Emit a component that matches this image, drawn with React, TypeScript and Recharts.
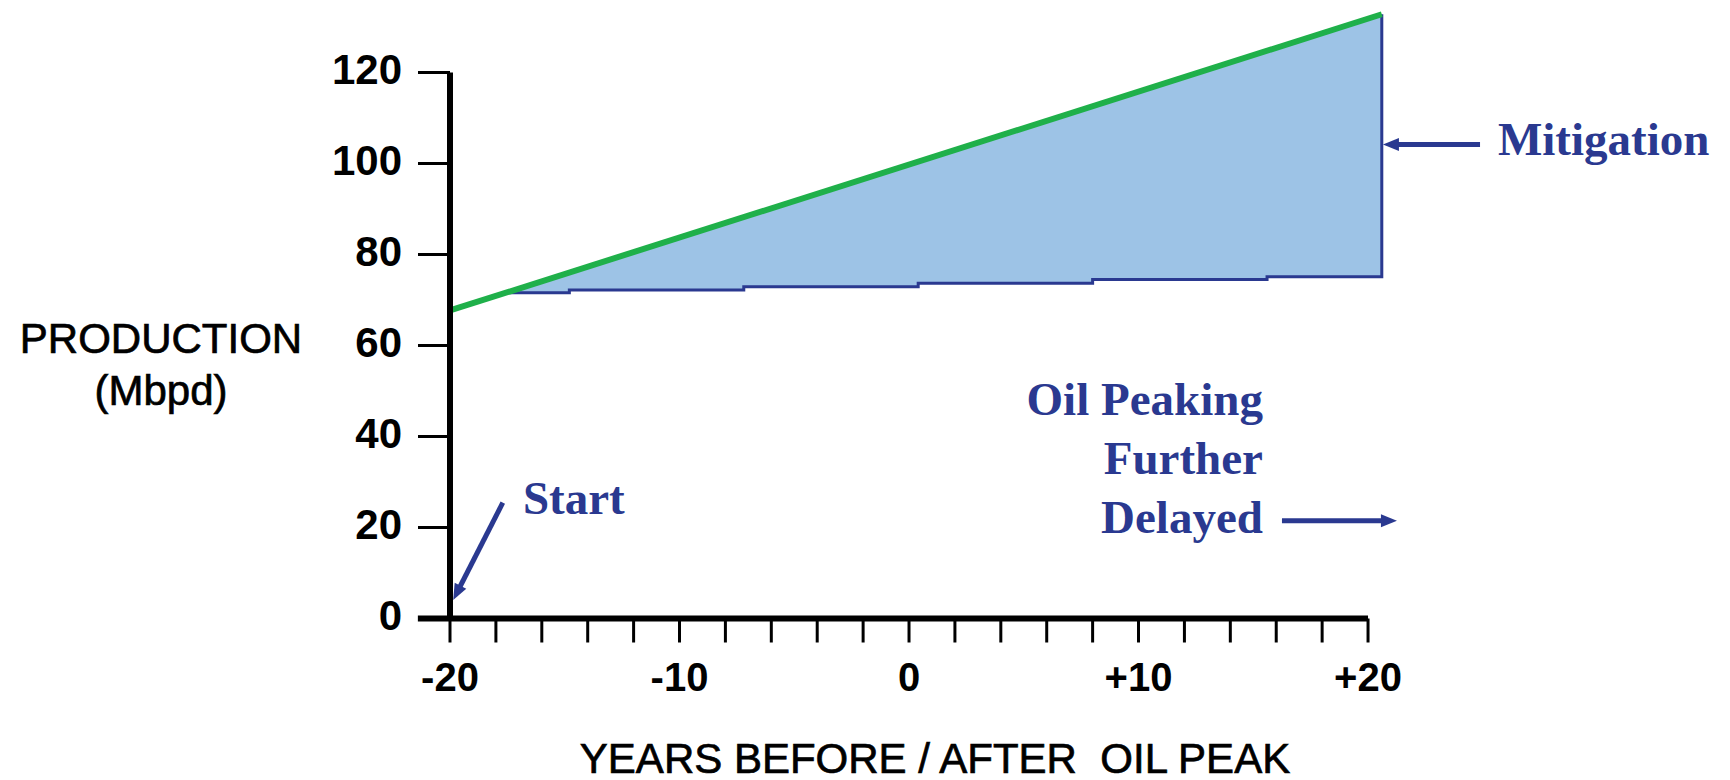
import { ComposedChart, Area, Line, XAxis, YAxis, ReferenceLine, ReferenceDot } from 'recharts'

// lower (base case) step line and the green mitigation line, read at the step points
const YEARS = [-17.4, -14.8, -14.8, -7.2, -7.2, 0.4, 0.4, 8.0, 8.0, 15.6, 15.6, 20.6]
const BASE_CASE = [71.6, 71.6, 72.2, 72.2, 72.9, 72.9, 73.7, 73.7, 74.5, 74.5, 75.1, 75.1]
const MITIGATED = [71.9, 76.0, 76.0, 88.2, 88.2, 100.4, 100.4, 112.6, 112.6, 124.8, 124.8, 132.8]

const GREEN_YEARS = [-20, 20.6]
const GREEN_VALUES = [67.7, 132.8]

const X_TICKS = [-20, -18, -16, -14, -12, -10, -8, -6, -4, -2, 0, 2, 4, 6, 8, 10, 12, 14, 16, 18, 20]
const X_LABELS: Record<string, string> = { '-20': '-20', '-10': '-10', '0': '0', '10': '+10', '20': '+20' }
const Y_TICKS = [0, 20, 40, 60, 80, 100, 120]

// annotation texts and arrows (in chart units)
const NOTES = [
  { text: 'Start', x: -16.82, y: 22.9, anchor: 'start' },
  { text: 'Oil Peaking', x: 15.42, y: 44.73, anchor: 'end' },
  { text: 'Further', x: 15.42, y: 31.76, anchor: 'end' },
  { text: 'Delayed', x: 15.42, y: 18.79, anchor: 'end' },
  { text: 'Mitigation', x: 25.66, y: 101.87, anchor: 'start' },
]
const ARROWS = [
  [{ x: -17.7, y: 25.45 }, { x: -19.86, y: 4.07 }],
  [{ x: 16.25, y: 21.49 }, { x: 21.26, y: 21.49 }],
  [{ x: 24.88, y: 104.2 }, { x: 20.65, y: 104.2 }],
]

const BLUE = '#2a3990'
const GREEN = '#1fb04a'
const FILL = '#9dc3e6'
const SANS = "'Liberation Sans', Arial, sans-serif"
const SERIF = "'Liberation Serif', 'Times New Roman', serif"

const areaData = YEARS.map((year, i) => ({ year, low: BASE_CASE[i], high: MITIGATED[i] }))
const outlineData = [
  ...YEARS.map((year, i) => ({ year, v: BASE_CASE[i] })),
  { year: YEARS[YEARS.length - 1], v: MITIGATED[MITIGATED.length - 1] },
]
const greenData = GREEN_YEARS.map((year, i) => ({ year, v: GREEN_VALUES[i] }))

function arrowShape(props: any) {
  const { x1, y1, x2, y2 } = props
  const dx = x2 - x1
  const dy = y2 - y1
  const len = Math.hypot(dx, dy) || 1
  const ux = dx / len
  const uy = dy / len
  const head = 16
  const half = 6.5
  const bx = x2 - ux * head
  const by = y2 - uy * head
  const pts = `${x2},${y2} ${bx - uy * half},${by + ux * half} ${bx + uy * half},${by - ux * half}`
  return (
    <g>
      <line x1={x1} y1={y1} x2={bx + ux * 2} y2={by + uy * 2} stroke={BLUE} strokeWidth={5} />
      <polygon points={pts} fill={BLUE} />
    </g>
  )
}

const YTick = ({ x, y, payload }: any) => (
  <text x={x} y={y} dy={11} textAnchor="end" fontFamily={SANS} fontWeight="bold" fontSize={42} fill="#000">
    {payload.value}
  </text>
)

const XTick = ({ x, y, payload }: any) => (
  <text x={x} y={y} dy={48} textAnchor="middle" fontFamily={SANS} fontWeight="bold" fontSize={40} fill="#000">
    {X_LABELS[String(payload.value)] ?? ''}
  </text>
)

const YTitle = ({ viewBox }: any) => (
  <g fontFamily={SANS} fontSize={42} fill="#000" stroke="#000" strokeWidth={0.7} textAnchor="middle">
    <text x={viewBox.x - 189} y={viewBox.y + 344}>PRODUCTION</text>
    <text x={viewBox.x - 189} y={viewBox.y + 396}>(Mbpd)</text>
  </g>
)

const XTitle = ({ viewBox }: any) => (
  <text x={viewBox.x + 485} y={viewBox.y + 154} textAnchor="middle" fontFamily={SANS} fontSize={42}
    fill="#000" stroke="#000" strokeWidth={0.7} style={{ whiteSpace: 'pre' }}>
    {'YEARS BEFORE / AFTER  OIL PEAK'}
  </text>
)

export default function App() {
  return (
    <div style={{ position: 'fixed', left: 0, top: 0, background: '#fff' }}>
      <ComposedChart width={1730} height={780} margin={{ top: 8.8, right: 348.2, bottom: 71.5, left: 350 }}>
        <XAxis type="number" dataKey="year" domain={[-20, 20.6]} ticks={X_TICKS} interval={0}
          axisLine={false} tickSize={24} tickMargin={0} height={90}
          tickLine={{ stroke: '#000', strokeWidth: 3 }} tick={<XTick />} label={{ content: XTitle }} />
        <YAxis type="number" domain={[0, 134]} ticks={Y_TICKS} interval={0} width={100}
          axisLine={false} tickSize={32} tickMargin={16}
          tickLine={{ stroke: '#000', strokeWidth: 3 }} tick={<YTick />} label={{ content: YTitle }} />

        <Area data={areaData} dataKey={(d: any) => [d.low, d.high]} type="linear"
          fill={FILL} fillOpacity={1} stroke="none" isAnimationActive={false} />
        <Line data={outlineData} dataKey="v" type="linear" stroke={BLUE} strokeWidth={3}
          dot={false} activeDot={false} isAnimationActive={false} />
        <Line data={greenData} dataKey="v" type="linear" stroke={GREEN} strokeWidth={6}
          dot={false} activeDot={false} isAnimationActive={false} />

        <ReferenceLine segment={[{ x: -20, y: 0 }, { x: -20, y: 120 }]} stroke="#000" strokeWidth={6} ifOverflow="visible" />
        <ReferenceLine segment={[{ x: -21.4, y: 0 }, { x: 20, y: 0 }]} stroke="#000" strokeWidth={6} ifOverflow="visible" />

        {ARROWS.map((seg, i) => (
          <ReferenceLine key={'a' + i} segment={seg} ifOverflow="visible" shape={arrowShape} />
        ))}
        {NOTES.map(n => (
          <ReferenceDot key={n.text} x={n.x} y={n.y} ifOverflow="visible"
            shape={(p: any) => (
              <text x={p.cx} y={p.cy} textAnchor={n.anchor} fontFamily={SERIF} fontWeight="bold"
                fontSize={47} fill={BLUE}>{n.text}</text>
            )} />
        ))}
      </ComposedChart>
    </div>
  )
}
